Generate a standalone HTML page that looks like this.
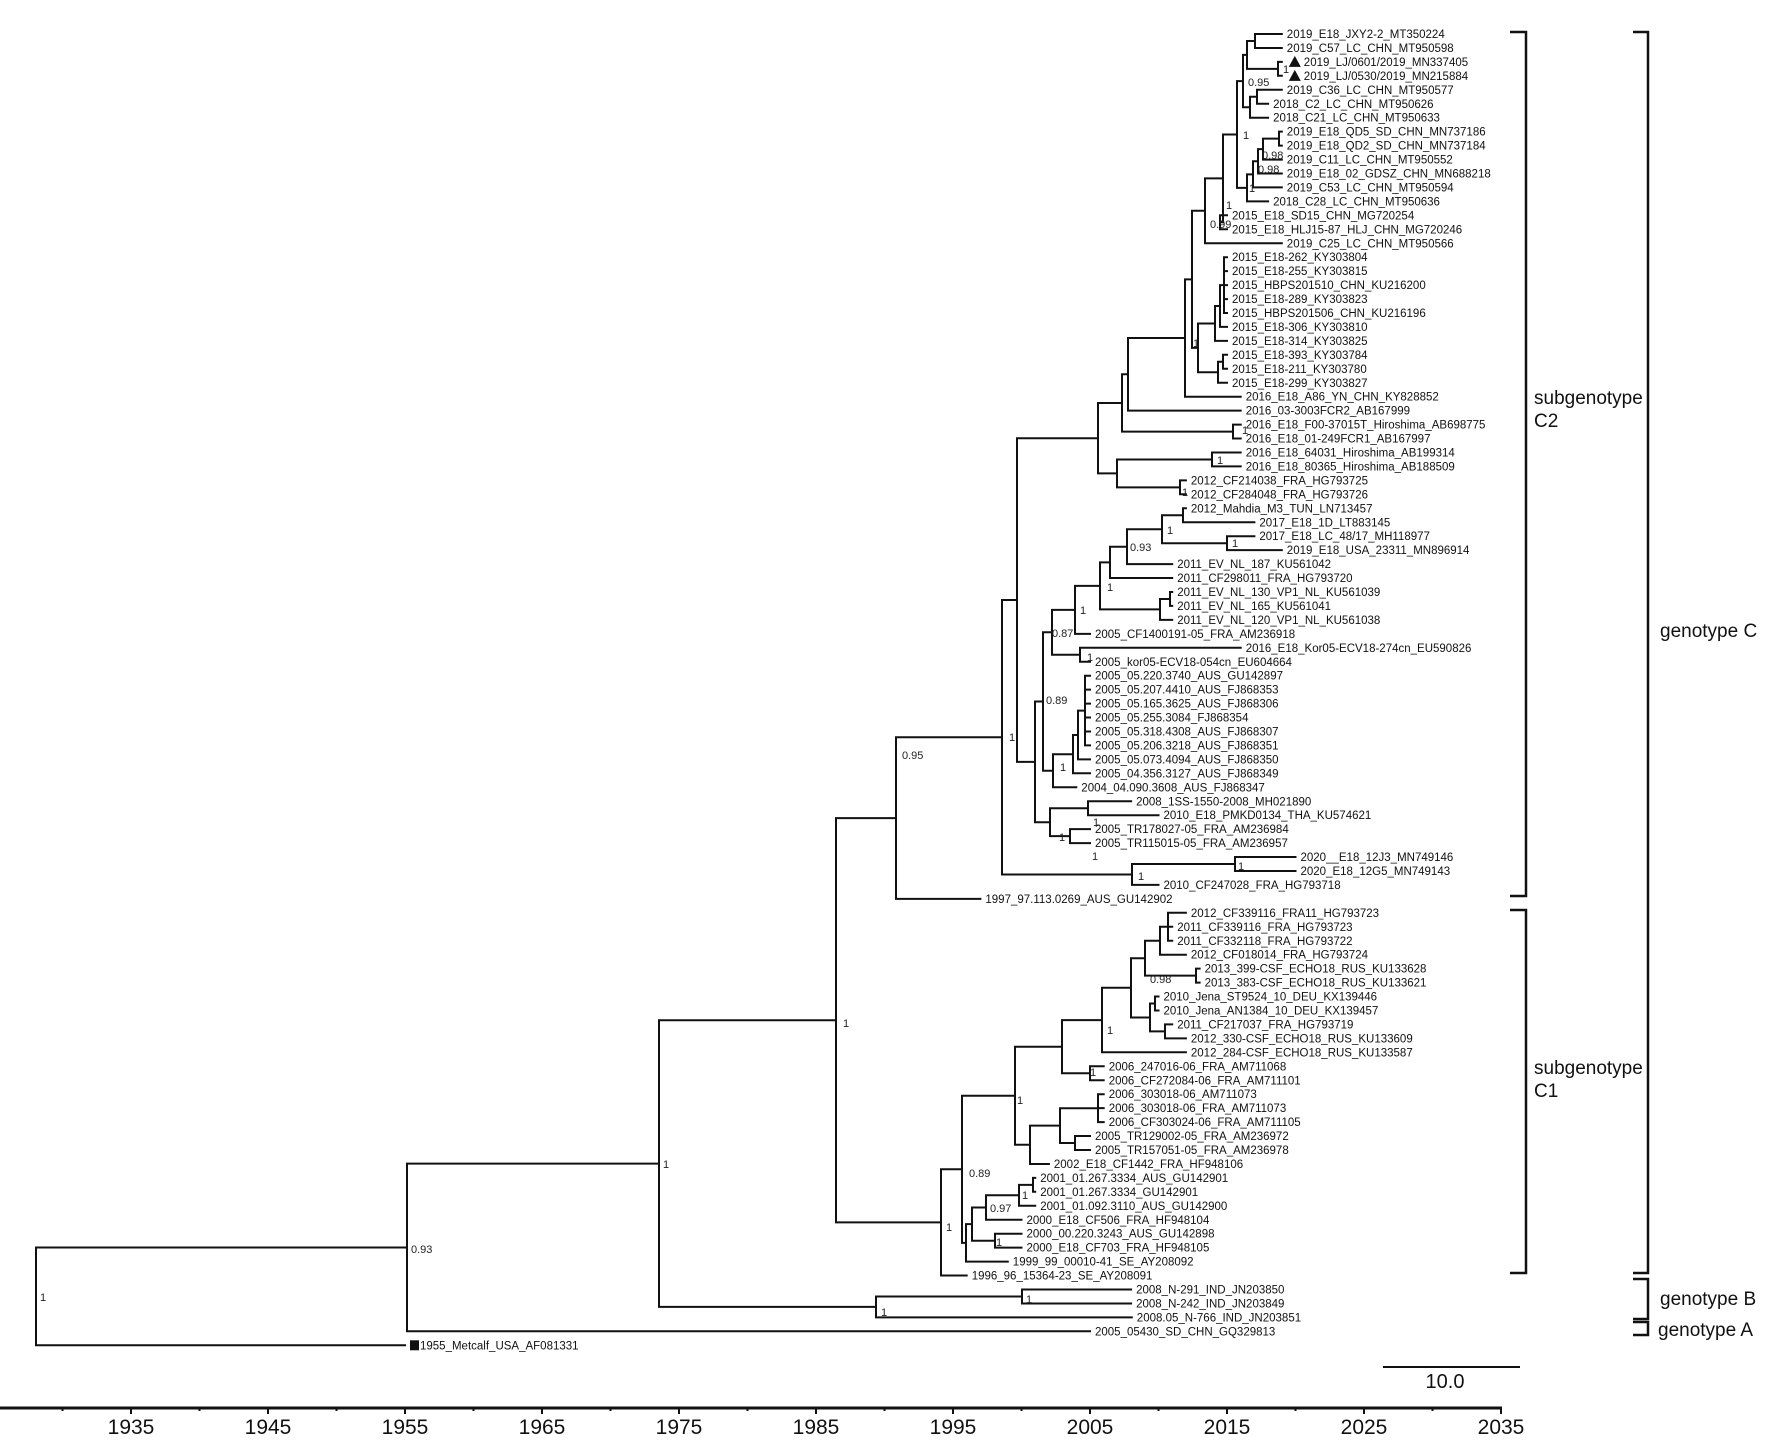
<!DOCTYPE html>
<html><head><meta charset="utf-8"><style>
html,body{margin:0;padding:0;background:#fff;}
svg{display:block;font-family:"Liberation Sans",Arial,sans-serif;}
#labels text{font-size:11.5px;fill:#111;}
.sup{font-size:11px;fill:#222;}
</style></head><body>
<svg id="s" width="1772" height="1454" viewBox="0 0 1772 1454" xmlns="http://www.w3.org/2000/svg">
<rect width="1772" height="1454" fill="#fff"/>
<g id="tree" stroke="#111" stroke-width="2" fill="none" stroke-linecap="square"></g>
<g id="marks" fill="#111"></g>
<g id="labels">
<text>2019_E18_JXY2-2_MT350224</text>
<text>2019_C57_LC_CHN_MT950598</text>
<text>2019_LJ/0601/2019_MN337405</text>
<text>2019_LJ/0530/2019_MN215884</text>
<text>2019_C36_LC_CHN_MT950577</text>
<text>2018_C2_LC_CHN_MT950626</text>
<text>2018_C21_LC_CHN_MT950633</text>
<text>2019_E18_QD5_SD_CHN_MN737186</text>
<text>2019_E18_QD2_SD_CHN_MN737184</text>
<text>2019_C11_LC_CHN_MT950552</text>
<text>2019_E18_02_GDSZ_CHN_MN688218</text>
<text>2019_C53_LC_CHN_MT950594</text>
<text>2018_C28_LC_CHN_MT950636</text>
<text>2015_E18_SD15_CHN_MG720254</text>
<text>2015_E18_HLJ15-87_HLJ_CHN_MG720246</text>
<text>2019_C25_LC_CHN_MT950566</text>
<text>2015_E18-262_KY303804</text>
<text>2015_E18-255_KY303815</text>
<text>2015_HBPS201510_CHN_KU216200</text>
<text>2015_E18-289_KY303823</text>
<text>2015_HBPS201506_CHN_KU216196</text>
<text>2015_E18-306_KY303810</text>
<text>2015_E18-314_KY303825</text>
<text>2015_E18-393_KY303784</text>
<text>2015_E18-211_KY303780</text>
<text>2015_E18-299_KY303827</text>
<text>2016_E18_A86_YN_CHN_KY828852</text>
<text>2016_03-3003FCR2_AB167999</text>
<text>2016_E18_F00-37015T_Hiroshima_AB698775</text>
<text>2016_E18_01-249FCR1_AB167997</text>
<text>2016_E18_64031_Hiroshima_AB199314</text>
<text>2016_E18_80365_Hiroshima_AB188509</text>
<text>2012_CF214038_FRA_HG793725</text>
<text>2012_CF284048_FRA_HG793726</text>
<text>2012_Mahdia_M3_TUN_LN713457</text>
<text>2017_E18_1D_LT883145</text>
<text>2017_E18_LC_48/17_MH118977</text>
<text>2019_E18_USA_23311_MN896914</text>
<text>2011_EV_NL_187_KU561042</text>
<text>2011_CF298011_FRA_HG793720</text>
<text>2011_EV_NL_130_VP1_NL_KU561039</text>
<text>2011_EV_NL_165_KU561041</text>
<text>2011_EV_NL_120_VP1_NL_KU561038</text>
<text>2005_CF1400191-05_FRA_AM236918</text>
<text>2016_E18_Kor05-ECV18-274cn_EU590826</text>
<text>2005_kor05-ECV18-054cn_EU604664</text>
<text>2005_05.220.3740_AUS_GU142897</text>
<text>2005_05.207.4410_AUS_FJ868353</text>
<text>2005_05.165.3625_AUS_FJ868306</text>
<text>2005_05.255.3084_FJ868354</text>
<text>2005_05.318.4308_AUS_FJ868307</text>
<text>2005_05.206.3218_AUS_FJ868351</text>
<text>2005_05.073.4094_AUS_FJ868350</text>
<text>2005_04.356.3127_AUS_FJ868349</text>
<text>2004_04.090.3608_AUS_FJ868347</text>
<text>2008_1SS-1550-2008_MH021890</text>
<text>2010_E18_PMKD0134_THA_KU574621</text>
<text>2005_TR178027-05_FRA_AM236984</text>
<text>2005_TR115015-05_FRA_AM236957</text>
<text>2020__E18_12J3_MN749146</text>
<text>2020_E18_12G5_MN749143</text>
<text>2010_CF247028_FRA_HG793718</text>
<text>1997_97.113.0269_AUS_GU142902</text>
<text>2012_CF339116_FRA11_HG793723</text>
<text>2011_CF339116_FRA_HG793723</text>
<text>2011_CF332118_FRA_HG793722</text>
<text>2012_CF018014_FRA_HG793724</text>
<text>2013_399-CSF_ECHO18_RUS_KU133628</text>
<text>2013_383-CSF_ECHO18_RUS_KU133621</text>
<text>2010_Jena_ST9524_10_DEU_KX139446</text>
<text>2010_Jena_AN1384_10_DEU_KX139457</text>
<text>2011_CF217037_FRA_HG793719</text>
<text>2012_330-CSF_ECHO18_RUS_KU133609</text>
<text>2012_284-CSF_ECHO18_RUS_KU133587</text>
<text>2006_247016-06_FRA_AM711068</text>
<text>2006_CF272084-06_FRA_AM711101</text>
<text>2006_303018-06_AM711073</text>
<text>2006_303018-06_FRA_AM711073</text>
<text>2006_CF303024-06_FRA_AM711105</text>
<text>2005_TR129002-05_FRA_AM236972</text>
<text>2005_TR157051-05_FRA_AM236978</text>
<text>2002_E18_CF1442_FRA_HF948106</text>
<text>2001_01.267.3334_AUS_GU142901</text>
<text>2001_01.267.3334_GU142901</text>
<text>2001_01.092.3110_AUS_GU142900</text>
<text>2000_E18_CF506_FRA_HF948104</text>
<text>2000_00.220.3243_AUS_GU142898</text>
<text>2000_E18_CF703_FRA_HF948105</text>
<text>1999_99_00010-41_SE_AY208092</text>
<text>1996_96_15364-23_SE_AY208091</text>
<text>2008_N-291_IND_JN203850</text>
<text>2008_N-242_IND_JN203849</text>
<text>2008.05_N-766_IND_JN203851</text>
<text>2005_05430_SD_CHN_GQ329813</text>
<text>1955_Metcalf_USA_AF081331</text>
</g>
<g class="sup">
<text x="40" y="1301">1</text>
<text x="411" y="1253">0.93</text>
<text x="663" y="1168">1</text>
<text x="843" y="1027">1</text>
<text x="902" y="759">0.95</text>
<text x="1009" y="741">1</text>
<text x="881" y="1316">1</text>
<text x="1026" y="1303">1</text>
<text x="1138" y="880">1</text>
<text x="1238" y="870">1</text>
<text x="1046" y="704">0.89</text>
<text x="1052" y="637">0.87</text>
<text x="1060" y="771">1</text>
<text x="1080" y="614">1</text>
<text x="1107" y="591">1</text>
<text x="1130" y="551">0.93</text>
<text x="1167" y="534">1</text>
<text x="1232" y="547">1</text>
<text x="1087" y="661">1</text>
<text x="1093" y="826">1</text>
<text x="1059" y="841">1</text>
<text x="1092" y="860">1</text>
<text x="1017" y="1104">1</text>
<text x="1107" y="1034">1</text>
<text x="1090" y="1076">1</text>
<text x="1150" y="983">0.98</text>
<text x="969" y="1177">0.89</text>
<text x="946" y="1231">1</text>
<text x="990" y="1212">0.97</text>
<text x="1022" y="1199">1</text>
<text x="996" y="1246">1</text>
<text x="1248" y="86">0.95</text>
<text x="1243" y="139">1</text>
<text x="1262" y="159">0.98</text>
<text x="1258" y="173">0.98</text>
<text x="1249" y="192">1</text>
<text x="1226" y="209">1</text>
<text x="1210" y="228">0.99</text>
<text x="1193" y="347">1</text>
<text x="1217" y="464">1</text>
<text x="1242" y="434">1</text>
<text x="1182" y="496">1</text>
<text x="1283" y="73">1</text>
</g>
<g stroke="#111" stroke-width="2.5" fill="none">
<polyline points="1510,32 1526,32 1526,896 1510,896"/>
<polyline points="1510,910 1526,910 1526,1273 1510,1273"/>
<polyline points="1633,32 1648,32 1648,1273 1633,1273"/>
<polyline points="1633,1279 1648,1279 1648,1319 1633,1319"/>
<polyline points="1633,1322 1648,1322 1648,1335 1633,1335"/>
<line x1="1383" y1="1367" x2="1520" y2="1367" stroke-width="2"/>
<line x1="0" y1="1408" x2="1502" y2="1408" stroke-width="3"/>
</g>
<g style="font-size:19px" fill="#111">
<text x="1534" y="404">subgenotype</text>
<text x="1534" y="427">C2</text>
<text x="1534" y="1074">subgenotype</text>
<text x="1534" y="1097">C1</text>
<text x="1660" y="637">genotype C</text>
<text x="1660" y="1305">genotype B</text>
<text x="1658" y="1336">genotype A</text>
<text x="1445" y="1388" text-anchor="middle" style="font-size:20px">10.0</text>
</g>
<g id="axis" fill="#111" style="font-size:21px" text-anchor="middle">
<text x="131" y="1434">1935</text>
<text x="268" y="1434">1945</text>
<text x="405" y="1434">1955</text>
<text x="542" y="1434">1965</text>
<text x="679" y="1434">1975</text>
<text x="816" y="1434">1985</text>
<text x="953" y="1434">1995</text>
<text x="1090" y="1434">2005</text>
<text x="1227" y="1434">2015</text>
<text x="1364" y="1434">2025</text>
<text x="1501" y="1434">2035</text>
</g>
<g id="ticks" stroke="#111" stroke-width="2"></g>
</svg>
<script>
(function(){
var NS="http://www.w3.org/2000/svg";
function X(yr){return 131+13.7*(yr-1935);}
function Y(i){return 34+(i-1)*13.95;}
function N(x){return {x:x,c:Array.prototype.slice.call(arguments,1)};}
var labs=document.querySelectorAll('#labels text');
var tipX=[];
for(var i=0;i<labs.length;i++){var m=labs[i].textContent.match(/^[\d.]+/);tipX[i+1]=X(parseFloat(m[0]));}
var tree=N(36,
 N(407,
  N(659,
   N(836,
    N(896,
     N(1002,
      N(1017,
       N(1098,
        N(1122,
         N(1128,
          N(1185,
           N(1192,
            N(1205,
             N(1223,
              N(1237,
               N(1243,
                N(1247,N(1255,1,2),N(1278,3,4)),
                N(1250,N(1257,5,6),7)),
               N(1247,N(1253,N(1258,N(1263,N(1279,8,9),10),11),12),13)),
              N(1220,14,15)),
             16),
            N(1198,N(1215,N(1220,N(1224,17,18,19,20,21),22),23),N(1218,N(1223,24,25),26))),
           27),
          28),
         N(1233,29,30)),
        N(1117,N(1212,31,32),N(1180,33,34))),
       N(1035,
        N(1043,
         N(1052,
          N(1075,
           N(1100,
            N(1110,
             N(1127,N(1162,N(1183,35,36),N(1227,37,38)),39),
             40),
            N(1160,N(1170,41,42),43)),
           44),
          N(1080,45,46)),
         N(1053,
          N(1073,N(1078,N(1085,47,48,49,50,51,52),53),54),
          55)),
        N(1050,N(1088,56,57),N(1070,58,59)))),
      N(1132,N(1235,60,61),62)),
     63),
    N(941,
     N(962,
      N(1015,
       N(1062,
        N(1102,
         N(1131,
          N(1145,N(1160,N(1168,64,65,66),67),N(1196,68,69)),
          N(1150,N(1155,70,71),N(1165,72,73))),
         74),
        N(1090,75,76)),
       N(1030,
        N(1060,N(1098,77,78,79),N(1075,80,81)),
        82)),
      N(966,
       N(972,
        N(986,N(1019,N(1033,83,84),85),86),
        N(995,87,88)),
       89)),
     90)),
   N(876,N(1022,91,92),93)),
  94),
 95);
var g=document.getElementById('tree');var d="";
function pos(n){if(typeof n==="number")return {x:tipX[n],y:Y(n)};
 var ps=n.c.map(pos);var y0=ps[0].y,y1=ps[ps.length-1].y;
 d+="M"+n.x+","+y0.toFixed(1)+"V"+y1.toFixed(1);
 for(var k=0;k<ps.length;k++){d+="M"+n.x+","+ps[k].y.toFixed(1)+"H"+ps[k].x.toFixed(1);}
 return {x:n.x,y:(y0+y1)/2};}
pos(tree);
var p=document.createElementNS(NS,"path");p.setAttribute("d",d);g.appendChild(p);
var mk=document.getElementById('marks');
for(var i=0;i<labs.length;i++){var n=i+1;var tx=tipX[n]+5;
 if(n===3||n===4){var t=document.createElementNS(NS,"polygon");var cx=tipX[n]+13,cy=Y(n);
  t.setAttribute("points",(cx-6)+","+(cy+5)+" "+(cx+6)+","+(cy+5)+" "+cx+","+(cy-6));mk.appendChild(t);tx=tipX[n]+22;}
 if(n===95){var r=document.createElementNS(NS,"rect");r.setAttribute("x",tipX[n]+5);r.setAttribute("y",Y(n)-5);r.setAttribute("width",9);r.setAttribute("height",10);mk.appendChild(r);tx=tipX[n]+15;}
 labs[i].setAttribute("x",tx.toFixed(1));labs[i].setAttribute("y",(Y(n)+4).toFixed(1));}
var tk=document.getElementById('ticks');var td="";
for(var yr=1930;yr<=2035;yr+=5){var x=X(yr);td+="M"+x+",1408V"+((yr%10===5)?1414:1411);}
var tp=document.createElementNS(NS,"path");tp.setAttribute("d",td);tk.appendChild(tp);
})();
</script>
</body></html>
